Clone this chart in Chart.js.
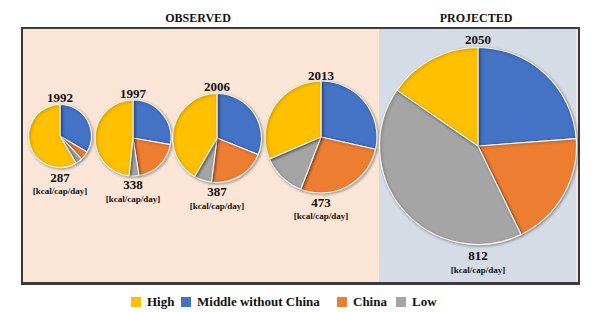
<!DOCTYPE html>
<html>
<head>
<meta charset="utf-8">
<script src="https://cdn.jsdelivr.net/npm/chart.js@4"></script>
<style>
  html,body{margin:0;padding:0;background:#fff;}
  body{width:606px;height:312px;position:relative;overflow:hidden;font-family:"Liberation Serif","Times New Roman",serif;font-weight:bold;color:#111;}
  .abs{position:absolute;}
  .t{position:absolute;transform:translate(-50%,-50%);white-space:nowrap;line-height:1;}
  #frame{left:21px;top:27px;width:555px;height:253px;border:2px solid #3b3b3b;border-bottom-width:3px;background:#FBE5D6;}
  #proj{left:379px;top:29px;width:197px;height:253px;background:#D6DCE5;}
  .legend{position:absolute;top:295px;height:14px;display:flex;align-items:center;font-size:13px;}
  .sw{display:inline-block;width:10px;height:10px;margin-right:6px;}
</style>
</head>
<body>
<div id="frame" class="abs"></div>
<div id="proj" class="abs"></div>
<div class="t" style="left:198px;top:18px;font-size:12px;">OBSERVED</div>
<div class="t" style="left:476px;top:18px;font-size:12px;">PROJECTED</div>
<div id="labels"></div>
<div id="charts"></div>
<div id="legend"></div>
<script>
// ---- data ----
const years  = ['1992', '1997', '2006', '2013', '2050'];
const totals = [287, 338, 387, 473, 812];
const unitLabel = '[kcal/cap/day]';
// shares of each income group (%), drawn clockwise from 12 o'clock
const sliceGroups = ['Middle without China', 'China', 'Low', 'High'];
const middleShare = [33.5, 27.8, 31.1, 28.5, 23.8];
const chinaShare  = [4.5, 19.7, 20.9, 27.4, 19.0];
const lowShare    = [3.5, 4.2, 6.4, 12.7, 41.8];
const highShare   = [58.5, 48.3, 41.6, 31.4, 15.4];
const legendOrder = ['High', 'Middle without China', 'China', 'Low'];

// ---- styles / layout ----
const colors = {'High':'#FFC000','Middle without China':'#4472C4','China':'#ED7D31','Low':'#A5A5A5'};
const layout = [
  {cx:60,  cy:136,   r:31.5, yearY:97,  totY:177, unitY:191},
  {cx:133, cy:138,   r:38,   yearY:93,  totY:184, unitY:199},
  {cx:217, cy:138,   r:44.5, yearY:86,  totY:191, unitY:206},
  {cx:321, cy:137,   r:56,   yearY:74.5,totY:202, unitY:216},
  {cx:478, cy:145.5, r:98.5, yearY:39,  totY:255, unitY:269.5}
];
const legendPos = [131, 181, 337, 396];

const shadowPlugin = {
  id:'shadow',
  beforeDatasetDraw(chart){
    const c = chart.ctx; c.save();
    c.shadowColor='rgba(0,0,0,0.35)'; c.shadowBlur=3; c.shadowOffsetX=1; c.shadowOffsetY=1;
  },
  afterDatasetDraw(chart){ chart.ctx.restore(); }
};

const chartsDiv = document.getElementById('charts');
const labelsDiv = document.getElementById('labels');
years.forEach((yr, i) => {
  const L = layout[i];
  const S = 2*Math.ceil(L.r) + 12;
  const cv = document.createElement('canvas');
  cv.width = S; cv.height = S;
  cv.style.cssText = `position:absolute;left:${L.cx - S/2}px;top:${L.cy - S/2}px;width:${S}px;height:${S}px;`;
  chartsDiv.appendChild(cv);
  new Chart(cv, {
    type:'pie',
    data:{
      labels: sliceGroups,
      datasets:[{
        data:[middleShare[i], chinaShare[i], lowShare[i], highShare[i]],
        backgroundColor: sliceGroups.map(g => colors[g]),
        borderColor:'#f7f7f7',
        borderWidth:1.2
      }]
    },
    options:{
      responsive:false, animation:false, radius:L.r,
      layout:{padding:0},
      plugins:{legend:{display:false}, tooltip:{enabled:false}}
    },
    plugins:[shadowPlugin]
  });
  const mk = (txt, y, fs) => {
    const d = document.createElement('div');
    d.className='t'; d.textContent = txt;
    d.style.cssText = `left:${L.cx}px;top:${y}px;font-size:${fs}px;`;
    labelsDiv.appendChild(d);
  };
  mk(yr, L.yearY, 13);
  mk(String(totals[i]), L.totY, 13);
  mk(unitLabel, L.unitY, 9);
});

const legDiv = document.getElementById('legend');
legendOrder.forEach((g, k) => {
  const d = document.createElement('div');
  d.className='legend';
  d.style.left = legendPos[k] + 'px';
  d.innerHTML = `<span class="sw" style="background:${colors[g]}"></span><span>${g}</span>`;
  legDiv.appendChild(d);
});
</script>
</body>
</html>
